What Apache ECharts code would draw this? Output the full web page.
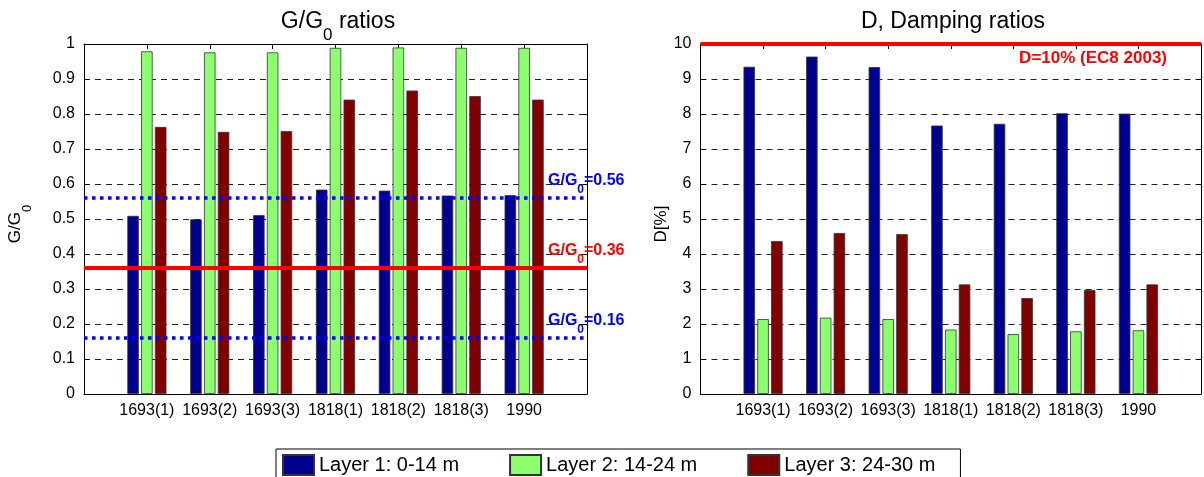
<!DOCTYPE html>
<html><head><meta charset="utf-8">
<script src="https://cdn.jsdelivr.net/npm/echarts@6/dist/echarts.min.js"></script>
<style>html,body{margin:0;padding:0;background:#fff}#c{width:1204px;height:477px}</style>
</head><body><div id="c"></div>
<script>
// ---------- data ----------
const categories = ['1693(1)','1693(2)','1693(3)','1818(1)','1818(2)','1818(3)','1990'];
const layerNames = ['Layer 1: 0-14 m','Layer 2: 14-24 m','Layer 3: 24-30 m'];
const gLayer1 = [0.509,0.499,0.511,0.584,0.581,0.567,0.568];
const gLayer2 = [0.979,0.976,0.976,0.989,0.990,0.989,0.989];
const gLayer3 = [0.763,0.749,0.751,0.841,0.867,0.851,0.841];
const dLayer1 = [9.35,9.64,9.34,7.67,7.72,8.02,8.01];
const dLayer2 = [2.14,2.18,2.14,1.84,1.71,1.79,1.82];
const dLayer3 = [4.37,4.60,4.57,3.13,2.74,2.97,3.13];
const gRefLines = [0.56, 0.36, 0.16];
const gRefKinds = ['blue','red','blue'];
const dRefLine = 10;
const dRefLabel = 'D=10% (EC8 2003)';
const gTickLabels = ['0','0.1','0.2','0.3','0.4','0.5','0.6','0.7','0.8','0.9','1'];
const dTickLabels = ['0','1','2','3','4','5','6','7','8','9','10'];

// ---------- styling ----------
const FONT = 'Liberation Sans, Arial, Helvetica, sans-serif';
const colors = ['#00008F','#8CFF6E','#800000'];
const padCats = [''].concat(categories, ['']);
const pad = arr => [null].concat(arr, [null]);

function catAxis(gridIndex, top){
  return {
    type:'category', gridIndex, data: padCats, boundaryGap:false,
    position: top ? 'top' : 'bottom',
    axisLine:{show:true, onZero:false, lineStyle:{color:'#000', width:1}},
    axisTick:{show:true, inside:true, length:5, lineStyle:{color:'#000'},
      interval:(i)=> i>0 && i<padCats.length-1},
    axisLabel:{show:!top, color:'#000', fontFamily:FONT, fontSize:16, margin:9,
      interval:0},
    splitLine:{show:false}
  };
}
function valAxis(gridIndex, right, max, interval, labels, name, nameGap){
  return {
    type:'value', gridIndex, min:0, max, interval,
    position: right ? 'right' : 'left',
    name: right ? '' : name, nameLocation:'middle', nameGap, nameRotate:90,
    nameTextStyle:{color:'#000', fontFamily:FONT, fontSize:17, padding:[0,10,0,0],
      rich:{
        m:{fontSize:17, fontFamily:FONT, color:'#000', lineHeight:18, verticalAlign:'top'},
        s:{fontSize:13, fontFamily:FONT, color:'#000', lineHeight:27, verticalAlign:'bottom'}
      }},
    axisLine:{show:true, lineStyle:{color:'#000', width:1}},
    axisTick:{show:true, inside:true, length:5, lineStyle:{color:'#000'}},
    axisLabel:{show:!right, color:'#000', fontFamily:FONT, fontSize:16, margin:9,
      formatter:(v)=> labels[Math.round(v/interval)]},
    splitLine:{show:!right, lineStyle:{color:'#222', type:[6,5], width:1}}
  };
}

const barBase = {type:'bar', barWidth:11.5, barGap:'20%',
  itemStyle:{borderColor:'#333', borderWidth:0.8}};

function gLabel(kind){
  const c = kind==='red' ? '#FF0000' : '#0000FF';
  return {
    show:true, position:'insideEndTop', align:'left', distance:[39,2],
    color:c,
    formatter:(p)=> '{m|G/G}{s|0}{m|=' + p.value + '}',
    rich:{
      m:{fontSize:16, fontWeight:'bold', fontFamily:FONT, color:c, lineHeight:16, verticalAlign:'top'},
      s:{fontSize:12, fontWeight:'bold', fontFamily:FONT, color:c, lineHeight:23, verticalAlign:'bottom'}
    }
  };
}
const gMarkData = gRefLines.map((v,i)=>({
  yAxis:v,
  lineStyle: gRefKinds[i]==='red'
    ? {color:'#FF0000', width:4, type:'solid'}
    : {color:'#0000FF', width:3.5, type:[3.5,4.5]},
  label: gLabel(gRefKinds[i])
}));

const titleRich = {
  m:{fontSize:23, fontWeight:'normal', fontFamily:FONT, color:'#000', lineHeight:24, verticalAlign:'top'},
  s:{fontSize:17, fontWeight:'normal', fontFamily:FONT, color:'#000', lineHeight:34, verticalAlign:'bottom'}
};

const option = {
  animation:false,
  textStyle:{fontFamily:FONT},
  color: colors,
  title:[
    {text:'{m|G/G}{s|0}{m| ratios}', left:338, top:10, padding:0, textAlign:'center',
      textStyle:{fontWeight:'normal', rich:titleRich}},
    {text:'{m|D, Damping ratios}', left:953, top:10, padding:0, textAlign:'center',
      textStyle:{fontWeight:'normal', rich:titleRich}}
  ],
  legend:{
    data: layerNames, left:276, top:449, orient:'horizontal',
    padding:[5,25,5,6], itemGap:50, itemWidth:31, itemHeight:20,
    borderColor:'#000', borderWidth:1, icon:'rect',
    textStyle:{color:'#000', fontFamily:FONT, fontSize:20}
  },
  grid:[
    {left:84, top:44, width:503, height:350},
    {left:700.5, top:44, width:500.5, height:350}
  ],
  xAxis:[catAxis(0,false), catAxis(0,true), catAxis(1,false), catAxis(1,true)],
  yAxis:[
    valAxis(0,false,1,0.1,gTickLabels,'{m|G/G}{s|0}',50),
    valAxis(0,true,1,0.1,gTickLabels,'',0),
    valAxis(1,false,10,1,dTickLabels,'{m|D[%]}',24),
    valAxis(1,true,10,1,dTickLabels,'',0)
  ],
  series:[
    Object.assign({}, barBase, {name:layerNames[0], xAxisIndex:0, yAxisIndex:0, data:pad(gLayer1),
      markLine:{silent:true, symbol:['none','none'], animation:false, data:gMarkData}}),
    Object.assign({}, barBase, {name:layerNames[1], xAxisIndex:0, yAxisIndex:0, data:pad(gLayer2)}),
    Object.assign({}, barBase, {name:layerNames[2], xAxisIndex:0, yAxisIndex:0, data:pad(gLayer3)}),
    Object.assign({}, barBase, {name:layerNames[0], xAxisIndex:2, yAxisIndex:2, data:pad(dLayer1),
      markLine:{silent:true, symbol:['none','none'], animation:false,
        data:[{yAxis:dRefLine, lineStyle:{color:'#FF0000', width:4, type:'solid'},
          label:{show:true, position:'insideEndBottom', distance:[34,6], color:'#FF0000',
            fontFamily:FONT, fontSize:17, fontWeight:'bold', formatter:dRefLabel}}]}}),
    Object.assign({}, barBase, {name:layerNames[1], xAxisIndex:2, yAxisIndex:2, data:pad(dLayer2)}),
    Object.assign({}, barBase, {name:layerNames[2], xAxisIndex:2, yAxisIndex:2, data:pad(dLayer3)})
  ]
};
const chart = echarts.init(document.getElementById('c'), null, {renderer:'canvas'});
chart.setOption(option);
</script></body></html>
